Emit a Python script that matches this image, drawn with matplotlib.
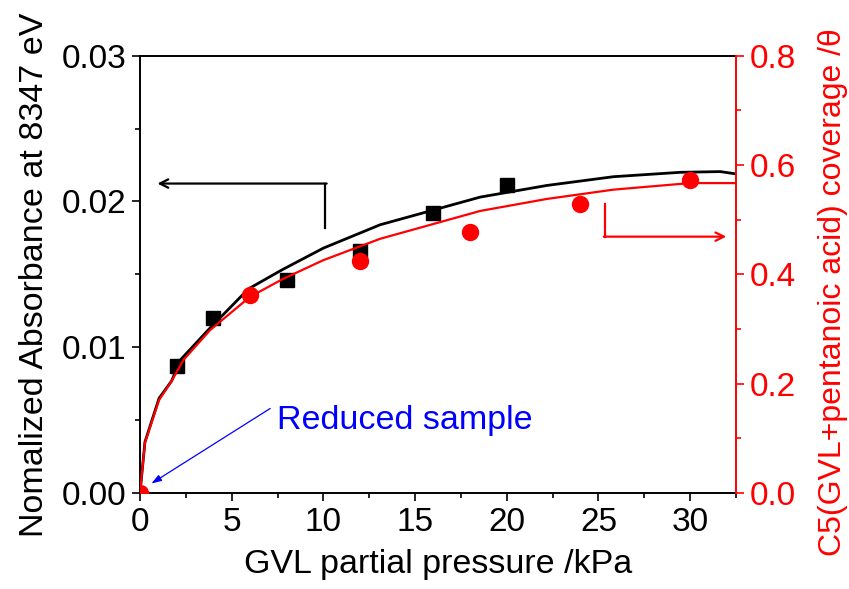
import matplotlib
matplotlib.use("Agg")
import matplotlib.pyplot as plt
from matplotlib.ticker import MultipleLocator, FormatStrFormatter

plt.rcParams['font.family'] = ['Liberation Sans', 'DejaVu Sans']

# Measured absorbance (left axis)
abs_p = [2, 4, 8, 12, 16, 20]
abs_val = [0.0087, 0.0120, 0.0146, 0.0166, 0.0192, 0.0211]

# Derived coverage (right axis)
cov_p = [0, 6, 12, 18, 24, 30]
cov_val = [0.0, 0.362, 0.424, 0.478, 0.528, 0.572]

# Fitted curves
fit_abs_p = [0, 0.27, 1.04, 1.73, 2.18, 3.73, 5.91, 7.73, 10.0, 13.09,
             18.55, 22.19, 25.82, 29.46, 31.64, 32.46]
fit_abs = [0.0, 0.0035, 0.0065, 0.0077, 0.0091, 0.0112, 0.0140, 0.0153,
           0.0168, 0.0184, 0.0203, 0.0211, 0.0217, 0.0220, 0.02205, 0.0219]
fit_cov_p = [0, 0.27, 1.04, 1.73, 2.36, 3.82, 6.0, 7.82, 10.0, 13.09,
             18.55, 22.19, 25.82, 30.0, 32.5]
fit_cov = [0.0, 0.092, 0.170, 0.205, 0.243, 0.298, 0.359, 0.392, 0.426,
           0.465, 0.516, 0.538, 0.555, 0.567, 0.567]

fig = plt.figure(figsize=(8.49, 5.89), dpi=100)
ax = fig.add_axes([0.1649, 0.163, 0.702, 0.7424])
ax2 = ax.twinx()

ax.plot(fit_abs_p, fit_abs, color='black', lw=2.0, zorder=3)
ax.plot(abs_p, abs_val, 's', color='black', ms=10, zorder=4)
ax2.plot(fit_cov_p, fit_cov, color='red', lw=1.6, zorder=3)
ax2.plot(cov_p, cov_val, 'o', color='red', ms=11.5, zorder=4)

ax.set_xlim(0, 32.5)
ax.set_ylim(0, 0.03)
ax2.set_ylim(0, 0.8)

ax.xaxis.set_major_locator(MultipleLocator(5))
ax.xaxis.set_minor_locator(MultipleLocator(2.5))
ax.yaxis.set_major_locator(MultipleLocator(0.01))
ax.yaxis.set_minor_locator(MultipleLocator(0.005))
ax.yaxis.set_major_formatter(FormatStrFormatter('%.2f'))
ax2.yaxis.set_major_locator(MultipleLocator(0.2))
ax2.yaxis.set_minor_locator(MultipleLocator(0.1))
ax2.yaxis.set_major_formatter(FormatStrFormatter('%.1f'))

fs = 24
lfs = 24.5
ax.tick_params(axis='both', which='major', direction='out', length=6,
               width=1.2, labelsize=fs, pad=4)
ax.tick_params(axis='both', which='minor', direction='out', length=3.5,
               width=1.2)
ax.tick_params(top=False, which='both')
ax2.tick_params(axis='y', which='major', direction='out', length=6,
                width=1.2, labelsize=fs, colors='red', pad=4)
ax2.tick_params(axis='y', which='minor', direction='out', length=3.5,
                width=1.2, colors='red')

for s in ['left', 'bottom', 'top']:
    ax.spines[s].set_linewidth(1.4)
ax.spines['right'].set_visible(False)
for s in ['left', 'bottom', 'top']:
    ax2.spines[s].set_visible(False)
ax2.spines['right'].set_color('red')
ax2.spines['right'].set_linewidth(1.4)

ax.set_xlabel('GVL partial pressure /kPa', fontsize=lfs, labelpad=8)
ax.set_ylabel('Nomalized Absorbance at 8347 eV', fontsize=lfs, labelpad=8)
ax2.set_ylabel('C5(GVL+pentanoic acid) coverage /θ', fontsize=23,
               color='red', ha='center', va='center')
ax2.yaxis.set_label_coords(1.162, 0.46)

# Axis-pointer arrows
ax.plot([10.1, 10.1], [0.01815, 0.02123], color='black', lw=1.6, zorder=2)
ax.annotate('', xy=(0.95, 0.02123), xytext=(10.18, 0.02123),
            arrowprops=dict(arrowstyle='->,head_length=0.6,head_width=0.3',
                            color='black', lw=1.6, shrinkA=0, shrinkB=0))
ax2.plot([25.37, 25.37], [0.529, 0.469], color='red', lw=1.6, zorder=2)
ax2.annotate('', xy=(31.97, 0.469), xytext=(25.29, 0.469),
             arrowprops=dict(arrowstyle='->,head_length=0.6,head_width=0.3',
                             color='red', lw=1.6, shrinkA=0, shrinkB=0))

# Reduced sample annotation
ax.annotate('', xy=(0.62, 0.00065), xytext=(7.1, 0.0058),
            arrowprops=dict(arrowstyle='-|>,head_length=0.6,head_width=0.2',
                            color='blue', lw=0.9, shrinkA=0, shrinkB=0))
ax.text(7.45, 0.00495, 'Reduced sample', color='blue', fontsize=lfs,
        ha='left', va='center')

fig.savefig('out.png', dpi=100)
